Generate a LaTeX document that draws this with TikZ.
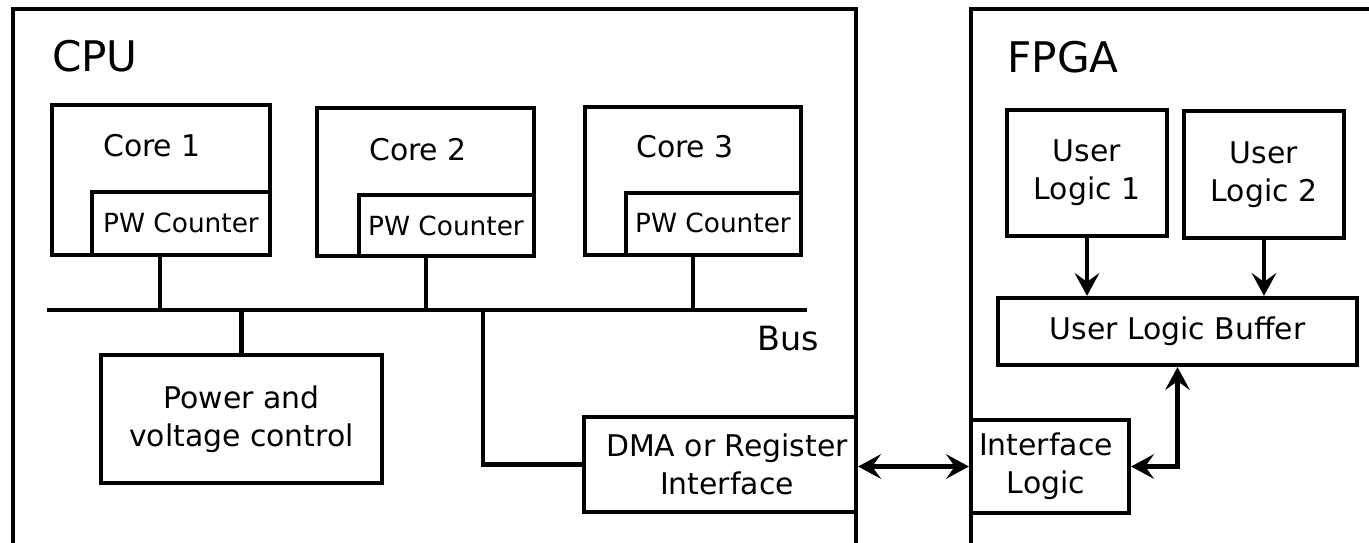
\documentclass[tikz,border=0pt]{standalone}
\usepackage{fontspec}
\setmainfont{DejaVu Sans}
\usetikzlibrary{arrows.meta,fit}
\tikzset{
  box/.style={draw, line width=2.4pt, inner sep=0pt},
  txt/.style={font=\fontsize{17}{21.6}\selectfont, align=center, inner sep=0pt},
  pwtxt/.style={font=\fontsize{15}{18}\selectfont, inner sep=0pt},
  ttl/.style={font=\fontsize{24}{28}\selectfont, inner sep=0pt},
  link/.style={line width=2.4pt},
  tip/.tip={Stealth[length=13pt,width=14pt,inset=5pt]},
  flow/.style={link, -tip},
  dflow/.style={link, tip-tip},
}
\begin{document}
\begin{tikzpicture}[x=0.02cm, y=-0.02cm]
\clip (0,0) rectangle (1369,542);
% the two chips
\node[box, fit={(13,9) (856,570)}] (cpu) {};
\node[box, fit={(971,9) (1400,570)}] (fpga) {};
\node[ttl, anchor=base] (cpulbl) at (95,71) {CPU};
\node[ttl, anchor=base] (fpgalbl) at (1063,72) {FPGA};

% cores, each with its counter in the corner
\node[box, fit={(52,105) (270,255)}] (core1) {};
\node[box, fit={(317,108) (534,256)}] (core2) {};
\node[box, fit={(585,107) (801,255)}] (core3) {};
\node[box, fit={(92,192) (270,255)}] (pw1) {};
\node[box, fit={(359,195) (534,256)}] (pw2) {};
\node[box, fit={(626,193) (801,255)}] (pw3) {};
\node[txt, anchor=base] (c1lbl) at (152,156) {Core 1};
\node[txt, anchor=base] (c2lbl) at (418,160) {Core 2};
\node[txt, anchor=base] (c3lbl) at (685,157) {Core 3};
\node[pwtxt, anchor=base] (pw1lbl) at (181,232) {PW Counter};
\node[pwtxt, anchor=base] (pw2lbl) at (446,235) {PW Counter};
\node[pwtxt, anchor=base] (pw3lbl) at (713,232) {PW Counter};

% bus
\coordinate (busL) at (47,310);
\coordinate (busR) at (807,310);
\coordinate (tap1) at (160,310);
\coordinate (tap2) at (426,310);
\coordinate (tap3) at (693,310);
\coordinate (tapd) at (483,310);
\draw[link] (busL) -- (busR);
\node[font=\fontsize{19}{22}\selectfont, anchor=base, inner sep=0pt] (buslbl) at (788,350) {Bus};

\node[box, fit={(101,355) (382,483)}] (pwr) {};
\node[box, fit={(584,417) (856,512)}] (dma) {};
\node[txt] (pwrlbl) at (pwr.center) {Power and\\voltage control};
\node[txt] (dmalbl) at ([xshift=0.14cm]dma.center) {DMA or Register\\Interface};

\draw[link] (pw1.south -| tap1) -- (tap1);
\draw[link] (pw2.south -| tap2) -- (tap2);
\draw[link] (pw3.south -| tap3) -- (tap3);
\draw[link] (pwr.north) -- (pwr.north |- busL);
\draw[link] (tapd) |- (dma.west);

% fpga side
\node[box, fit={(1007,110) (1167,236)}] (ul1) {};
\node[box, fit={(1184,111) (1344,238)}] (ul2) {};
\node[box, fit={(998,298) (1357,365)}] (buf) {};
\node[box, fit={(971,420) (1129,513)}] (il) {};
\node[txt] (ul1lbl) at (ul1.center) {User\\Logic 1};
\node[txt] (ul2lbl) at (ul2.center) {User\\Logic 2};
\node[txt] (buflbl) at (buf.center) {User Logic Buffer};
\node[txt] (illbl) at ([xshift=-0.08cm]il.center) {Interface\\Logic};

\draw[flow] (ul1.south) -- (ul1.south |- buf.north);
\draw[flow] (ul2.south) -- (ul2.south |- buf.north);
\draw[dflow] (il.east) -| (buf.south);
\draw[dflow] (dma.east |- il.west) -- (il.west);
\end{tikzpicture}
\end{document}
